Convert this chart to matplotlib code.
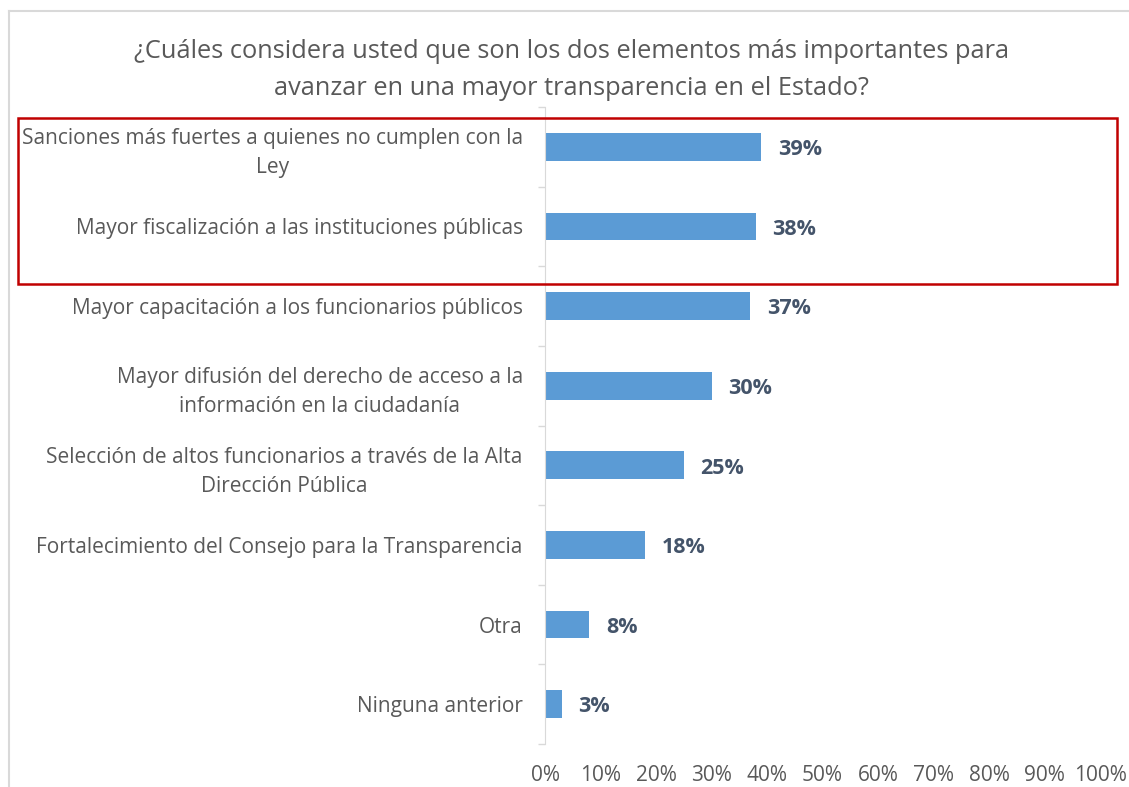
import matplotlib
matplotlib.use('Agg')
import matplotlib.pyplot as plt
from matplotlib.patches import Rectangle
from matplotlib.lines import Line2D
import numpy as np

plt.rcParams['font.family'] = ['Open Sans', 'DejaVu Sans']

# data (top to bottom)
categories = [
    'Sanciones más fuertes a quienes no cumplen con la\nLey',
    'Mayor fiscalización a las instituciones públicas',
    'Mayor capacitación a los funcionarios públicos',
    'Mayor difusión del derecho de acceso a la\ninformación en la ciudadanía',
    'Selección de altos funcionarios a través de la Alta\nDirección Pública',
    'Fortalecimiento del Consejo para la Transparencia',
    'Otra',
    'Ninguna anterior',
]
values = [39, 38, 37, 30, 25, 18, 8, 3]
xticks = [0, 10, 20, 30, 40, 50, 60, 70, 80, 90, 100]

title = ('¿Cuáles considera usted que son los dos elementos más importantes para\n'
         'avanzar en una mayor transparencia en el Estado?')

W, H = 1129, 787
fig = plt.figure(figsize=(W / 100, H / 100), dpi=100)
ax = fig.add_axes([545 / W, 1 - 744 / H, 555 / W, 637 / H])

y = np.arange(len(categories))
ax.barh(y, values, height=0.35, color='#5B9BD5')
for yi, v in zip(y, values):
    ax.annotate(f'{v}%', (v, yi), xytext=(12, -2), textcoords='offset points',
                va='center', ha='left', fontsize=15.5, fontweight='bold', color='#44546A')

ax.set_xlim(0, 100)
ax.set_ylim(len(categories) - 0.5, -0.5)
ax.set_xticks(xticks)
ax.set_xticklabels([f'{t}%' for t in xticks], fontsize=15, color='#595959')
ax.tick_params(axis='x', length=0, pad=15)

ax.set_yticks(y)
ax.set_yticklabels(categories, fontsize=15, color='#595959', ha='right',
                   multialignment='center', linespacing=1.5)
ax.tick_params(axis='y', which='major', length=0, pad=16)
ax.set_yticks(np.arange(-0.5, len(categories)), minor=True)
ax.tick_params(axis='y', which='minor', length=5, color='#D9D9D9', width=1)

for s in ['top', 'right', 'bottom']:
    ax.spines[s].set_visible(False)
ax.spines['left'].set_color('#D9D9D9')

fig.text(572 / W, 1 - 70 / H, title, ha='center', va='center', fontsize=18.3,
         color='#595959', linespacing=1.6)

# highlight box
fig.patches.append(Rectangle((18 / W, 1 - 284 / H), 1099 / W, 166 / H, transform=fig.transFigure,
                             fill=False, edgecolor='#C00000', linewidth=1.8))
# chart border
fig.lines.append(Line2D([9 / W, 9 / W], [0, 1 - 11 / H], transform=fig.transFigure, color='#D9D9D9', lw=1.5))
fig.lines.append(Line2D([9 / W, 1], [1 - 11 / H, 1 - 11 / H], transform=fig.transFigure, color='#D9D9D9', lw=1.5))

fig.savefig('out.png', dpi=100)
